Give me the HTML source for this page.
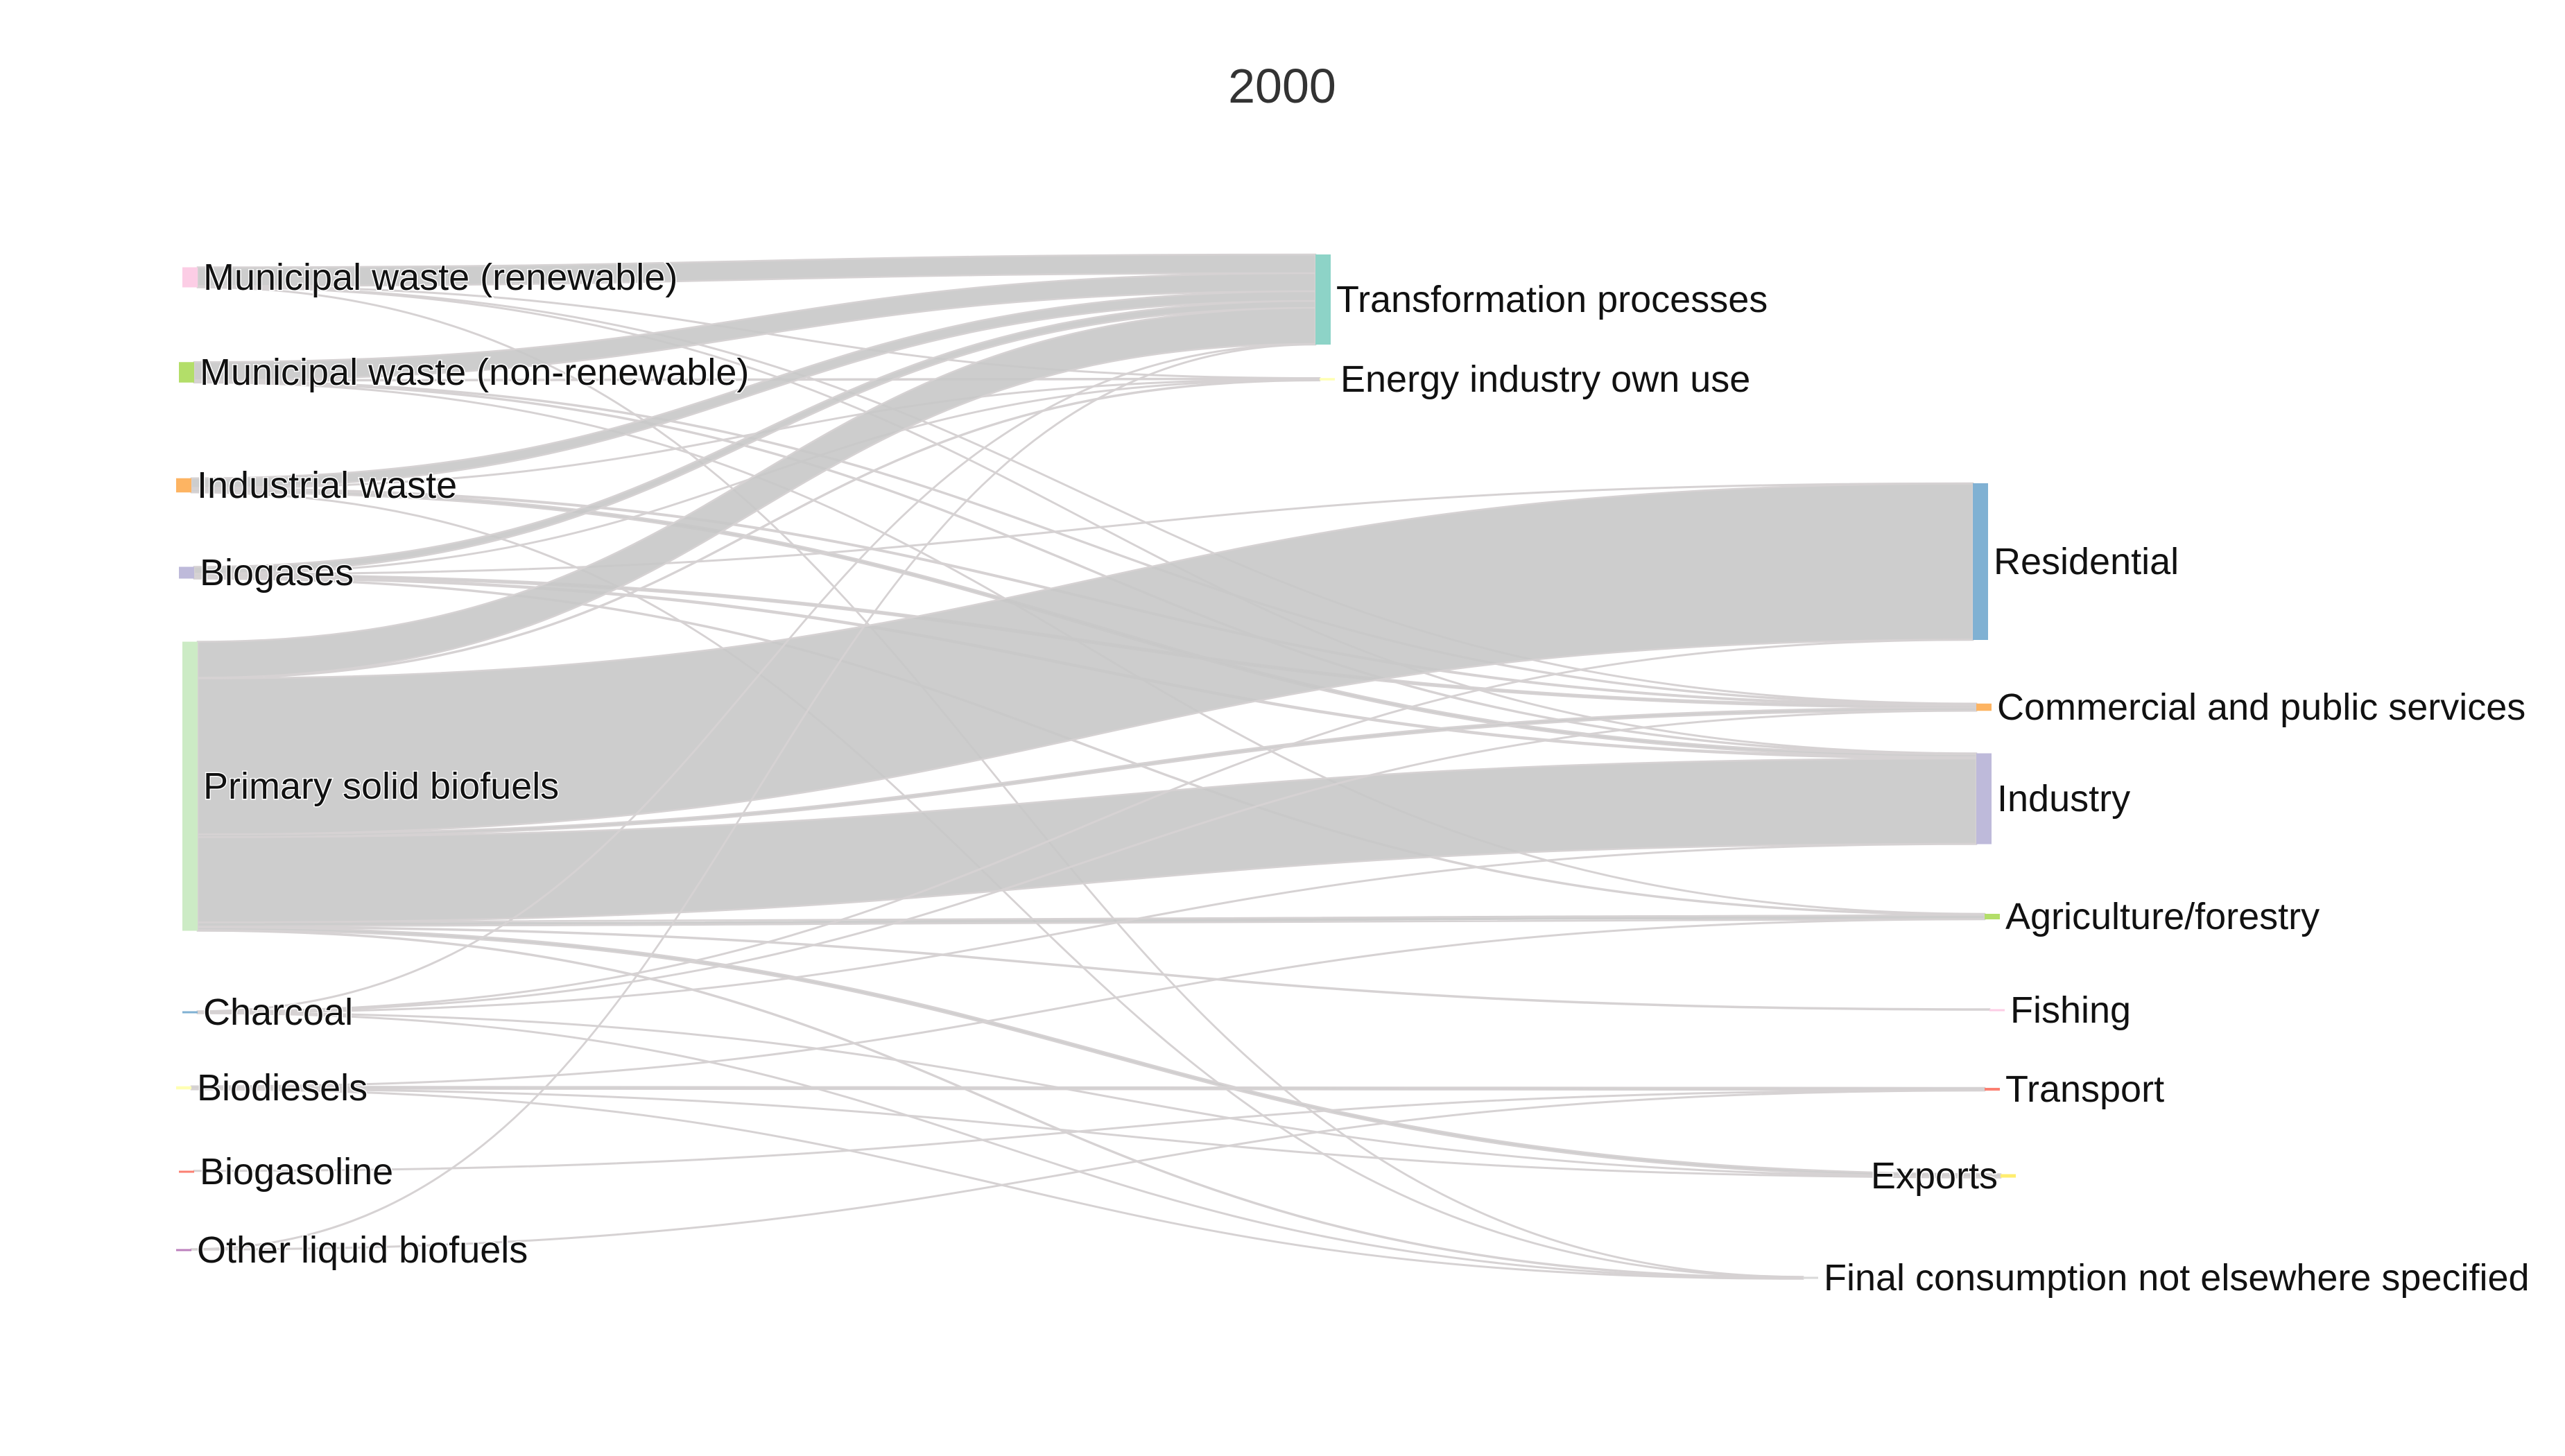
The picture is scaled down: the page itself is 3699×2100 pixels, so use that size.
<!DOCTYPE html>
<html><head><meta charset="utf-8">
<style>
html,body{margin:0;padding:0;background:#fff;}
svg{display:block;font-family:"Liberation Sans",sans-serif;}
</style></head>
<body>
<svg id="chart" width="3699" height="2100" viewBox="0 0 3699 2100">
<text x="1849" y="148" text-anchor="middle" font-size="70" fill="#333">2000</text>
<g id="links"></g>
<g id="nodes"></g>
</svg>
<script>
const nodeLabels = ["Municipal waste (renewable)","Municipal waste (non-renewable)","Industrial waste","Biogases","Primary solid biofuels","Charcoal","Biodiesels","Biogasoline","Other liquid biofuels","Transformation processes","Energy industry own use","Residential","Commercial and public services","Industry","Agriculture/forestry","Fishing","Transport","Exports","Final consumption not elsewhere specified"];
const linkSources = [0,0,0,0,0, 1,1,1,1,1, 2,2,2,2,2, 3,3,3,3,3,3, 4,4,4,4,4,4,4,4,4, 5,5,5,5,5,5, 6,6,6,6, 7, 8,8];
const linkTargets = [9,10,12,13,18, 9,10,12,13,14, 9,10,12,13,18, 9,10,11,12,13,14, 9,10,11,12,13,14,15,17,18, 9,11,12,13,17,18, 14,16,17,18, 16, 9,16];
const linkValues = [27,0.5,0.5,0.5,0.5, 26,1,1,1,0.5, 14,0.5,1.5,4,0.5, 10,0.5,0.5,3,2,1, 52,1,225,4,123,6,1,4,1, 0.5,0.5,0.5,0.5,0.5,0.5, 0.5,3,0.5,0.5, 0.5, 0.5,0.5];

// layout (positions, not data)
const nodeX = [263,258,254,258,263,263,254,258,254, 1897,1903, 2845,2850,2850,2862,2869,2862,2885,2600];
const nodeCY = [400,537,700,826,1134,1460,1569,1690,1803, 432,547, 810,1020,1152,1322,1457,1571,1696,1843];
const nodeColors = ["#fccde5","#b3de69","#fdb462","#bebada","#ccebc5","#80b1d3","#ffffb3","#fb8072","#bc80bd","#8dd3c7","#ffffb3","#80b1d3","#fdb462","#bebada","#b3de69","#fccde5","#fb8072","#ffed6f","#d9d9d9"];
const NW = 22, SCALE = 1;
const NS = "http://www.w3.org/2000/svg";
const n = nodeLabels.length;
const inSum = new Array(n).fill(0), outSum = new Array(n).fill(0);
linkValues.forEach((v,i)=>{ outSum[linkSources[i]] += v; inSum[linkTargets[i]] += v; });
const nh = nodeLabels.map((_,i)=>Math.max(Math.max(inSum[i],outSum[i])*SCALE,3));
const ntop = nodeLabels.map((_,i)=>nodeCY[i]-nh[i]/2);
const idx = linkValues.map((_,i)=>i);
const outOff = new Array(n).fill(0), inOff = new Array(n).fill(0);
const y0s = [], y1s = [];
[...idx].sort((a,b)=>nodeCY[linkTargets[a]]-nodeCY[linkTargets[b]]).forEach(i=>{
  const s = linkSources[i]; y0s[i] = ntop[s]+outOff[s]; outOff[s] += linkValues[i]*SCALE; });
[...idx].sort((a,b)=>nodeCY[linkSources[a]]-nodeCY[linkSources[b]]).forEach(i=>{
  const t = linkTargets[i]; y1s[i] = ntop[t]+inOff[t]; inOff[t] += linkValues[i]*SCALE; });
const lg = document.getElementById('links');
idx.forEach(i=>{
  const s = linkSources[i], t = linkTargets[i], w = linkValues[i]*SCALE;
  const x0 = nodeX[s]+NW, x1 = nodeX[t], xm = (x0+x1)/2;
  const a = y0s[i], b = y1s[i];
  const d = `M${x0},${a} C${xm},${a} ${xm},${b} ${x1},${b} L${x1},${b+w} C${xm},${b+w} ${xm},${a+w} ${x0},${a+w} Z`;
  const p = document.createElementNS(NS,'path');
  p.setAttribute('d',d);
  p.setAttribute('fill','#c8c8c8');
  p.setAttribute('fill-opacity','0.9');
  p.setAttribute('stroke','#d6d2d3');
  p.setAttribute('stroke-width','2.5');
  
  
  lg.appendChild(p);
});
const ng = document.getElementById('nodes');
nodeLabels.forEach((lab,i)=>{
  const r = document.createElementNS(NS,'rect');
  r.setAttribute('x',nodeX[i]); r.setAttribute('y',ntop[i]);
  r.setAttribute('width',NW); r.setAttribute('height',nh[i]);
  r.setAttribute('fill',nodeColors[i]);
  
  
  ng.appendChild(r);
  const tx = document.createElementNS(NS,'text');
  const left = (i===17);
  tx.setAttribute('x', left ? nodeX[i]-4 : nodeX[i]+NW+8);
  tx.setAttribute('y', nodeCY[i]+18);
  tx.setAttribute('font-size','54');
  tx.setAttribute('fill','#111');
  tx.setAttribute('text-anchor', left ? 'end' : 'start');
  tx.setAttribute('stroke','#fff'); tx.setAttribute('stroke-width','3'); tx.setAttribute('paint-order','stroke');
  tx.textContent = lab;
  
  
  ng.appendChild(tx);
});
</script>
</body></html>
